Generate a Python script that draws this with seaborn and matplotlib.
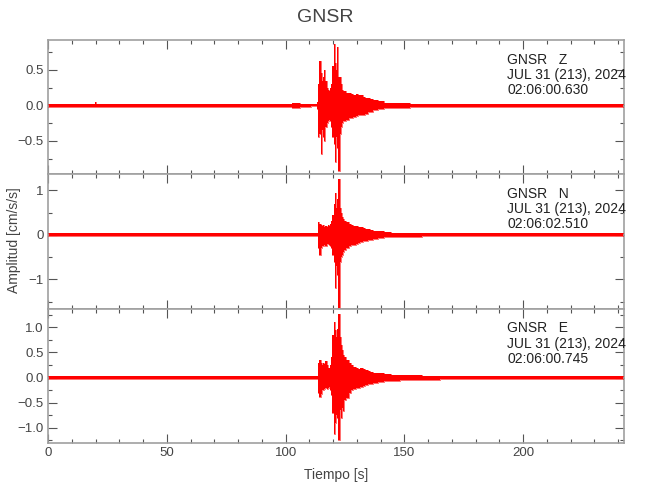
import matplotlib
matplotlib.use("Agg")
import matplotlib.pyplot as plt
import seaborn as sns
from matplotlib.ticker import MultipleLocator

STATION = "GNSR"
COMPONENTS = ["Z", "N", "E"]
DATE_LABEL = "JUL 31 (213), 2024"
START_TIMES = ["02:06:00.630", "02:06:02.510", "02:06:00.745"]

# envelope of each trace (upper / lower peak amplitude)
t_env = [0, 19.5, 20, 20.5, 102, 103, 105, 107, 108,
         113, 113.5, 114, 114.5, 115, 115.5, 116, 116.5, 117, 117.5, 118, 118.5,
         119, 119.5, 120, 120.5, 121, 121.5, 122, 122.5, 123, 123.5, 124, 124.5, 125,
         126, 127, 128, 129, 130, 131, 132, 133, 134, 135, 136,
         138, 140, 143, 146, 150, 155, 160, 170, 242.5]

z_up = [0.02, 0.02, 0.05, 0.02, 0.02, 0.03, 0.035, 0.025, 0.02,
        0.015, 0.05, 0.30, 0.62, 0.45, 0.35, 0.40, 0.50, 0.35, 0.25, 0.22, 0.20,
        0.25, 0.30, 0.55, 0.86, 0.60, 0.50, 0.82, 0.40, 0.40, 0.30, 0.22, 0.20, 0.20,
        0.18, 0.18, 0.16, 0.15, 0.16, 0.14, 0.14, 0.12, 0.10, 0.10, 0.09,
        0.07, 0.06, 0.04, 0.035, 0.03, 0.025, 0.02, 0.02, 0.02]
z_lo = [-0.02, -0.02, -0.025, -0.02, -0.02, -0.03, -0.035, -0.025, -0.02,
        -0.015, -0.05, -0.45, -0.40, -0.68, -0.35, -0.45, -0.50, -0.30, -0.25, -0.22, -0.20,
        -0.22, -0.30, -0.45, -0.55, -0.80, -0.45, -0.60, -0.92, -0.40, -0.30, -0.25, -0.22, -0.22,
        -0.20, -0.18, -0.18, -0.16, -0.15, -0.14, -0.14, -0.13, -0.12, -0.10, -0.09,
        -0.07, -0.05, -0.04, -0.035, -0.03, -0.025, -0.02, -0.02, -0.02]

n_up = [0.03, 0.03, 0.03, 0.03, 0.03, 0.03, 0.03, 0.03, 0.03,
        0.03, 0.03, 0.28, 0.25, 0.22, 0.20, 0.22, 0.18, 0.20, 0.18, 0.22, 0.20,
        0.25, 0.30, 0.45, 0.70, 0.95, 0.60, 0.80, 1.25, 0.60, 0.50, 0.40, 0.35, 0.30,
        0.28, 0.25, 0.22, 0.20, 0.20, 0.18, 0.18, 0.15, 0.13, 0.12, 0.11,
        0.09, 0.08, 0.06, 0.05, 0.045, 0.04, 0.03, 0.03, 0.03]
n_lo = [-0.03, -0.03, -0.03, -0.03, -0.03, -0.03, -0.03, -0.03, -0.03,
        -0.03, -0.03, -0.30, -0.45, -0.30, -0.25, -0.25, -0.22, -0.25, -0.20, -0.20, -0.22,
        -0.25, -0.30, -0.45, -0.60, -1.20, -0.70, -0.90, -1.66, -0.60, -0.50, -0.45, -0.38, -0.35,
        -0.30, -0.25, -0.22, -0.22, -0.20, -0.18, -0.17, -0.15, -0.13, -0.12, -0.11,
        -0.09, -0.08, -0.06, -0.05, -0.045, -0.04, -0.03, -0.03, -0.03]

e_up = [0.03, 0.03, 0.03, 0.03, 0.03, 0.03, 0.03, 0.03, 0.03,
        0.03, 0.03, 0.30, 0.35, 0.30, 0.25, 0.30, 0.28, 0.32, 0.25, 0.20, 0.20,
        0.25, 0.40, 0.85, 1.10, 0.95, 0.80, 0.97, 1.27, 0.80, 0.65, 0.55, 0.45, 0.40,
        0.35, 0.30, 0.25, 0.22, 0.20, 0.18, 0.20, 0.17, 0.15, 0.14, 0.12,
        0.10, 0.09, 0.07, 0.06, 0.05, 0.045, 0.04, 0.03, 0.03]
e_lo = [-0.03, -0.03, -0.03, -0.03, -0.03, -0.03, -0.03, -0.03, -0.03,
        -0.03, -0.03, -0.30, -0.38, -0.33, -0.25, -0.25, -0.22, -0.20, -0.22, -0.20, -0.18,
        -0.25, -0.35, -0.70, -1.12, -0.90, -0.75, -0.80, -1.25, -0.65, -0.80, -0.60, -0.66, -0.45,
        -0.40, -0.30, -0.25, -0.22, -0.20, -0.20, -0.18, -0.17, -0.15, -0.13, -0.12,
        -0.10, -0.09, -0.07, -0.06, -0.05, -0.045, -0.04, -0.03, -0.03]

TRACES = [(z_up, z_lo), (n_up, n_lo), (e_up, e_lo)]
Y_LIMITS = [(-0.97, 0.92), (-1.66, 1.36), (-1.30, 1.37)]
Y_MAJOR = [0.5, 1.0, 0.5]
Y_MINOR = [0.25, 0.5, 0.25]

RED = "#ff0000"
SPINE = "#a0a0a0"
INK = "#444444"


def style_axis(ax, ymaj, ymin, ylim):
    ax.set_xlim(0, 242.5)
    ax.set_ylim(*ylim)
    ax.xaxis.set_major_locator(MultipleLocator(50))
    ax.xaxis.set_minor_locator(MultipleLocator(10))
    ax.yaxis.set_major_locator(MultipleLocator(ymaj))
    ax.yaxis.set_minor_locator(MultipleLocator(ymin))
    ax.tick_params(which="both", direction="in", top=True, right=True,
                   color="#555555", width=0.8, labelsize=9.5, labelcolor=INK, pad=3)
    ax.tick_params(which="major", length=6.5)
    ax.tick_params(which="minor", length=3.2)
    for sp in ax.spines.values():
        sp.set_visible(True)
        sp.set_color(SPINE)
        sp.set_linewidth(1.2)
    ax.set_xlabel("")
    ax.set_ylabel("")


def main() -> None:
    sns.set_theme(style="ticks")
    plt.rcParams["font.family"] = ["Liberation Sans", "DejaVu Sans"]

    fig, axes = plt.subplots(3, 1, figsize=(6.5, 5.0), dpi=100, sharex=True)
    fig.subplots_adjust(left=0.074, right=0.96, top=0.92, bottom=0.114, hspace=0)

    for i, ax in enumerate(axes):
        up, lo = TRACES[i]
        ax.fill_between(t_env, lo, up, step="mid", color=RED, lw=0, zorder=2)
        sns.lineplot(x=t_env, y=up, ax=ax, color=RED, lw=0.4,
                     drawstyle="steps-mid", estimator=None, sort=False, zorder=3)
        sns.lineplot(x=t_env, y=lo, ax=ax, color=RED, lw=0.4,
                     drawstyle="steps-mid", estimator=None, sort=False, zorder=3)
        style_axis(ax, Y_MAJOR[i], Y_MINOR[i], Y_LIMITS[i])
        label = f"{STATION}   {COMPONENTS[i]}\n{DATE_LABEL}\n{START_TIMES[i]}"
        ax.text(0.797, 0.905, label, transform=ax.transAxes, ha="left", va="top",
                fontsize=10, color="#222222", linespacing=1.1)
        if i < 2:
            ax.tick_params(labelbottom=False)

    axes[2].set_xlabel("Tiempo [s]", fontsize=10, color=INK, labelpad=6)
    fig.text(0.022, 0.52, "Amplitud [cm/s/s]", rotation=90, ha="center", va="center",
             fontsize=10, color=INK)
    fig.suptitle(STATION, y=0.982, fontsize=14, color=INK)

    fig.savefig("out.png", dpi=100)
    plt.close(fig)


if __name__ == "__main__":
    main()
